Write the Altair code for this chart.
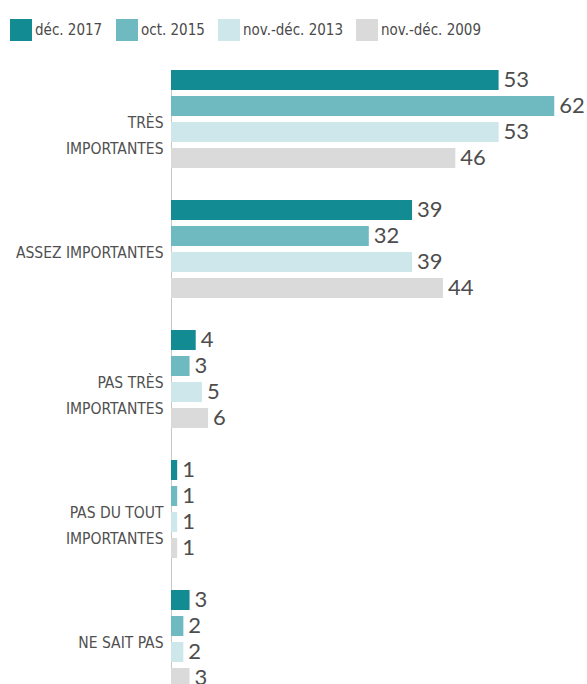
import altair as alt
import pandas as pd

categories = ["TRÈS\nIMPORTANTES", "ASSEZ IMPORTANTES", "PAS TRÈS\nIMPORTANTES",
              "PAS DU TOUT\nIMPORTANTES", "NE SAIT PAS"]
series = ["déc. 2017", "oct. 2015", "nov.-déc. 2013", "nov.-déc. 2009"]
v_2017 = [53, 39, 4, 1, 3]
v_2015 = [62, 32, 3, 1, 2]
v_2013 = [53, 39, 5, 1, 2]
v_2009 = [46, 44, 6, 1, 3]
colors = ["#138b93", "#6fb9c0", "#cde7ea", "#dadada"]

rows = []
for s, vals in zip(series, [v_2017, v_2015, v_2013, v_2009]):
    for c, v in zip(categories, vals):
        rows.append({"cat": c, "serie": s, "val": v})
df = pd.DataFrame(rows)

NARROW = "'Liberation Sans Narrow', 'Arial Narrow', 'DejaVu Sans Condensed', sans-serif"

y = alt.Y("cat:N", sort=categories,
          scale=alt.Scale(range=[0, 618], paddingInner=0.246, paddingOuter=0),
          axis=alt.Axis(title=None, ticks=False, labelPadding=8, labelFont=NARROW,
                        labelFontSize=15.5, labelColor="#505050", labelLimit=0,
                        labelLineHeight=26, labelOffset=4,
                        domainColor="#c8c8c8", domainWidth=1,
                        labelExpr="split(datum.label, '\\n')"))
yoff = alt.YOffset("serie:N", sort=series,
                   scale=alt.Scale(paddingInner=0.23, paddingOuter=0))
x = alt.X("val:Q", scale=alt.Scale(domain=[0, 67.3], nice=False), axis=None)

bars = alt.Chart(df).mark_bar(clip=True).encode(
    y=y, yOffset=yoff, x=x,
    color=alt.Color("serie:N", sort=series,
                    scale=alt.Scale(domain=series, range=colors),
                    legend=alt.Legend(title=None, orient="none", legendX=-161, legendY=-51,
                                      direction="horizontal", columns=4,
                                      symbolType="square", symbolSize=484,
                                      symbolStrokeWidth=0, symbolOpacity=1,
                                      labelFont=NARROW, labelFontSize=15,
                                      labelColor="#4a4a4a", labelOffset=3,
                                      columnPadding=13, padding=0)),
)

labels = alt.Chart(df).mark_text(align="left", baseline="middle", dx=5, clip=True,
                                 font="Lato", fontSize=22, color="#4d4d4d").encode(
    y=y, yOffset=yoff, x=x, text="val:Q")

chart = alt.layer(bars, labels).properties(
    width=416, height=614,
    padding={"left": 171, "top": 70, "right": 0, "bottom": 0},
    autosize="none",
).configure_view(stroke=None)

chart.save("out.html", embed_options={"renderer": "svg", "actions": False})
